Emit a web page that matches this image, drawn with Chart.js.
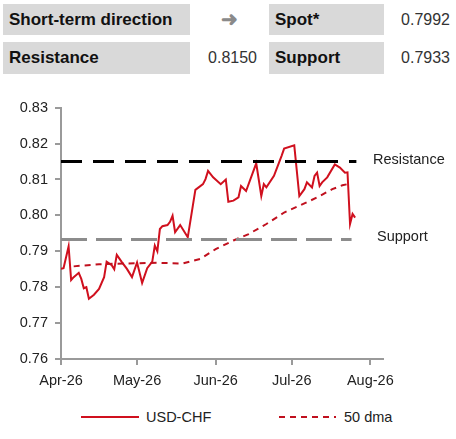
<!DOCTYPE html>
<html>
<head>
<meta charset="utf-8">
<script src="https://cdn.jsdelivr.net/npm/chart.js@4.4.1/dist/chart.umd.min.js"></script>
<style>
  html, body { margin: 0; padding: 0; background: #fff; width: 456px; height: 439px; overflow: hidden; }
  body { font-family: "Liberation Sans", Arial, sans-serif; position: relative; }
  .box { position: absolute; background: #d9d9d9; font-weight: bold; font-size: 17px; color: #111; line-height: 32px; padding-left: 6px; box-sizing: border-box; }
  .val { position: absolute; font-size: 16px; color: #333; line-height: 32px; text-align: right; }
  .arrow { position: absolute; color: #8a8a8a; font-size: 20px; font-weight: bold; line-height: 32px; }
  #wrap { position: absolute; left: 0; top: 92px; width: 456px; height: 310px; }
  .leg { position: absolute; top: 406px; font-size: 14.5px; color: #222; line-height: 22px; }
  .leg svg { position: absolute; top: 0; }
</style>
</head>
<body>
<div class="box" style="left:3px;top:4px;width:187px;height:31px;">Short-term direction</div>
<div class="arrow" style="left:221px;top:3px;">&#10140;</div>
<div class="box" style="left:269px;top:4px;width:115px;height:31px;">Spot*</div>
<div class="val" style="left:380px;top:4px;width:70px;">0.7992</div>
<div class="box" style="left:3px;top:42px;width:187px;height:32px;">Resistance</div>
<div class="val" style="left:186px;top:42px;width:71px;">0.8150</div>
<div class="box" style="left:269px;top:42px;width:115px;height:32px;">Support</div>
<div class="val" style="left:380px;top:42px;width:70px;">0.7933</div>

<div id="wrap"><canvas id="chart" width="456" height="310"></canvas></div>

<div class="leg" style="left:81px;width:140px;">
  <svg width="60" height="22"><line x1="0" y1="11" x2="58" y2="11" stroke="#d0101e" stroke-width="2"/></svg>
  <span style="position:absolute;left:65px;">USD-CHF</span>
</div>
<div class="leg" style="left:279px;width:140px;">
  <svg width="60" height="22"><line x1="0" y1="11" x2="57" y2="11" stroke="#c0101e" stroke-width="2" stroke-dasharray="6,5"/></svg>
  <span style="position:absolute;left:65px;">50 dma</span>
</div>

<script>
// days counted from 1 Apr 2026
var spotDays = [0, 1, 3, 4, 5, 7, 8, 9, 10, 11, 13, 15, 17, 18, 20, 21, 22, 24, 26, 28,
  30, 32, 34, 36, 37, 38, 39, 40, 42, 43, 44, 45, 47, 50, 52, 53, 56, 57, 58, 60,
  63, 65, 66, 68, 70, 71, 73, 77, 79, 80, 81, 84, 87, 88, 92, 94, 96, 97, 99, 100,
  101, 102, 103, 105, 108, 110, 112, 113, 114, 115, 116];
var spotValues = [0.7851, 0.7853, 0.7914, 0.7820, 0.7828, 0.7840, 0.7823, 0.7797, 0.7800, 0.7768,
  0.7779, 0.7795, 0.7828, 0.7871, 0.7861, 0.7850, 0.7890, 0.7870, 0.7851, 0.7828,
  0.7869, 0.7812, 0.7853, 0.7871, 0.7916, 0.7900, 0.7962, 0.7970, 0.7973, 0.7982,
  0.7999, 0.7953, 0.7973, 0.7939, 0.8027, 0.8071, 0.8087, 0.8101, 0.8124, 0.8106,
  0.8087, 0.8100, 0.8038, 0.8041, 0.8050, 0.8082, 0.8068, 0.8145, 0.8054, 0.8087,
  0.8078, 0.8110, 0.8166, 0.8186, 0.8195, 0.8054, 0.8073, 0.8092, 0.8078, 0.8110,
  0.8119, 0.8082, 0.8092, 0.8106, 0.8142, 0.8133, 0.8119, 0.8120, 0.7976, 0.8004, 0.7994];

var dmaDays = [5, 15, 25, 38, 48, 55, 61, 68, 74, 81, 88, 94, 101, 107, 111, 113];
var dmaValues = [0.7858, 0.7864, 0.7866, 0.7868, 0.7866, 0.7879, 0.7906, 0.7930, 0.7948,
  0.7976, 0.8008, 0.8027, 0.8050, 0.8073, 0.8084, 0.8087];

var resistance = 0.8150;
var support = 0.7933;
var levelStart = 0, resistanceEnd = 116.5, supportEnd = 114.6;

var monthDays = [0, 30, 61, 91, 122];
var monthLabels = ["Apr-26", "May-26", "Jun-26", "Jul-26", "Aug-26"];
var yTicks = [0.76, 0.77, 0.78, 0.79, 0.80, 0.81, 0.82, 0.83];

function pts(xs, ys) {
  return xs.map(function (x, i) { return { x: x, y: ys[i] }; });
}

var levelLabels = {
  id: 'levelLabels',
  afterDatasetsDraw: function (chart) {
    var ctx = chart.ctx, y = chart.scales.y;
    ctx.save();
    ctx.font = '14.5px "Liberation Sans", Arial, sans-serif';
    ctx.fillStyle = '#222';
    ctx.textBaseline = 'middle';
    ctx.fillText('Resistance', 373, y.getPixelForValue(resistance) - 2);
    ctx.fillText('Support', 377, y.getPixelForValue(support) - 2);
    ctx.restore();
  }
};

new Chart(document.getElementById('chart'), {
  type: 'line',
  data: {
    datasets: [
      { label: 'Resistance', data: pts([levelStart, resistanceEnd], [resistance, resistance]),
        borderColor: '#000', borderWidth: 3, borderDash: [21, 11], pointRadius: 0 },
      { label: 'Support', data: pts([levelStart, supportEnd], [support, support]),
        borderColor: '#8c8c8c', borderWidth: 3, borderDash: [26, 9], pointRadius: 0 },
      { label: '50 dma', data: pts(dmaDays, dmaValues),
        borderColor: '#c0101e', borderWidth: 2, borderDash: [6, 5], pointRadius: 0 },
      { label: 'USD-CHF', data: pts(spotDays, spotValues),
        borderColor: '#d0101e', borderWidth: 2, pointRadius: 0 }
    ]
  },
  options: {
    responsive: false,
    animation: false,
    layout: { padding: { top: 13, right: 73, left: 0, bottom: 0 } },
    plugins: { legend: { display: false }, tooltip: { enabled: false } },
    scales: {
      x: {
        type: 'linear', min: 0, max: 127,
        afterBuildTicks: function (s) { s.ticks = monthDays.map(function (v) { return { value: v }; }); },
        afterFit: function (s) { s.height = 43; },
        ticks: {
          autoSkip: false, maxRotation: 0, padding: 7, color: '#222',
          font: { family: '"Liberation Sans", Arial, sans-serif', size: 14.5 },
          callback: function (v) { var i = monthDays.indexOf(v); return i >= 0 ? monthLabels[i] : ''; }
        },
        grid: { drawOnChartArea: false, tickLength: 6, color: '#9a9a9a', lineWidth: 2 },
        border: { color: '#9a9a9a', width: 2 }
      },
      y: {
        min: 0.76, max: 0.83,
        afterBuildTicks: function (s) { s.ticks = yTicks.map(function (v) { return { value: v }; }); },
        afterFit: function (s) { s.width = 61; },
        ticks: {
          padding: 7, color: '#222',
          font: { family: '"Liberation Sans", Arial, sans-serif', size: 14.5 },
          callback: function (v) { return v.toFixed(2); }
        },
        grid: { drawOnChartArea: false, tickLength: 6, color: '#9a9a9a', lineWidth: 2 },
        border: { color: '#9a9a9a', width: 2 }
      }
    }
  },
  plugins: [levelLabels]
});
</script>
</body>
</html>
